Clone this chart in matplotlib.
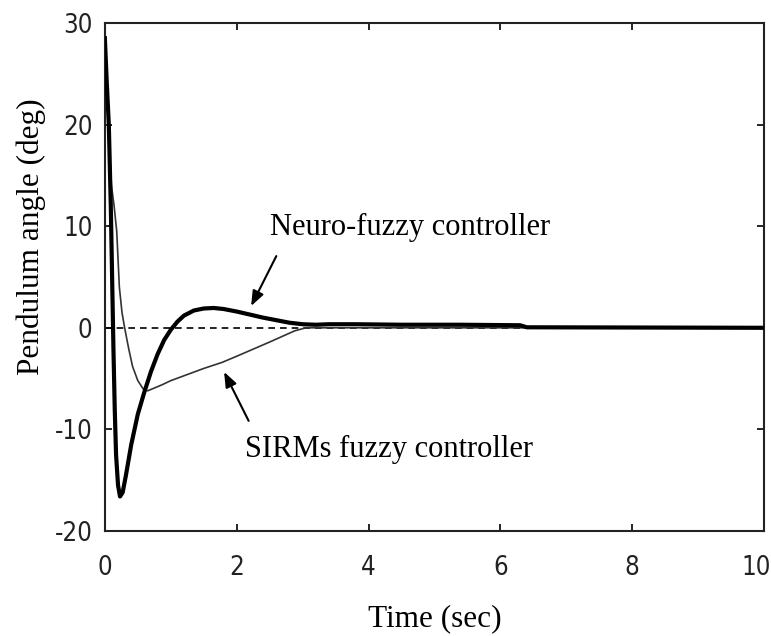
import numpy as np
import matplotlib
matplotlib.use("Agg")
import matplotlib.pyplot as plt
import matplotlib.transforms as mtransforms
from matplotlib import font_manager

# Neuro-fuzzy controller response (thick line)
t_nf = [0.0, 0.03, 0.06, 0.09, 0.11, 0.13, 0.15, 0.17, 0.20, 0.23, 0.27, 0.32,
        0.40, 0.50, 0.60, 0.70, 0.80, 0.90, 1.00, 1.10, 1.20, 1.35, 1.50, 1.65,
        1.80, 2.00, 2.20, 2.40, 2.60, 2.80, 3.00, 3.20, 3.40, 3.80, 4.50, 5.40,
        6.30, 6.40, 10.0]
y_nf = [28.5, 24.0, 20.0, 12.0, 5.0, -2.0, -8.0, -12.5, -15.5, -16.6, -16.2, -14.5,
        -11.5, -8.5, -6.3, -4.3, -2.6, -1.2, -0.2, 0.6, 1.2, 1.7, 1.9, 1.95,
        1.85, 1.6, 1.3, 1.0, 0.75, 0.5, 0.35, 0.3, 0.35, 0.35, 0.3, 0.3,
        0.25, 0.05, 0.0]

# SIRMs fuzzy controller response (thin line)
t_sirm = [0.0, 0.05, 0.10, 0.14, 0.18, 0.22, 0.26, 0.30, 0.36, 0.42, 0.50, 0.58,
          0.65, 0.87, 1.00, 1.50, 1.78, 2.00, 2.50, 2.88, 3.05, 10.0]
y_sirm = [28.5, 20.0, 14.0, 12.0, 9.5, 4.0, 1.5, 0.0, -2.0, -3.8, -5.2, -6.0,
          -6.2, -5.6, -5.2, -4.0, -3.4, -2.8, -1.4, -0.3, 0.0, 0.0]

x_ticks = [0, 2, 4, 6, 8, 10]
y_ticks = [-20, -10, 0, 10, 20, 30]

plt.rcParams["axes.unicode_minus"] = False

serif = ["Liberation Serif", "DejaVu Serif"]

# narrow sans for the tick numbers, if one is available
fonts = font_manager.fontManager.ttflist
names = {f.name for f in fonts}
tick_kw = dict(family="Liberation Sans", stretch="normal", size=17)
if "Liberation Sans Narrow" in names:
    tick_kw = dict(family="Liberation Sans Narrow", stretch="normal", size=19)
elif any(f.name == "DejaVu Sans" and f.stretch == "condensed" for f in fonts):
    tick_kw = dict(family="DejaVu Sans", stretch="condensed", size=18.5)

fig = plt.figure(figsize=(7.71, 6.36), dpi=100)
ax = fig.add_axes([0.136, 0.165, 0.855, 0.799])

ax.axhline(0, color="black", lw=1.2, ls=(0, (4, 3)), zorder=1)
ax.plot(t_sirm, y_sirm, color="#333333", lw=1.2, zorder=2)
ax.plot(t_nf, y_nf, color="black", lw=3.0, zorder=3)

ax.set_xlim(0, 10)
ax.set_ylim(-20, 30)
ax.set_xticks(x_ticks)
ax.set_yticks(y_ticks)
ax.tick_params(direction="in", length=5, width=1.2, top=True, right=True,
               colors="black")
ax.tick_params(axis="x", pad=17)
ax.tick_params(axis="y", pad=9)
for lab in ax.get_xticklabels() + ax.get_yticklabels():
    lab.set_family(tick_kw["family"])
    lab.set_fontstretch(tick_kw["stretch"])
    lab.set_fontsize(tick_kw["size"])
    lab.set_color("#222222")
# last x label sits against the figure edge, nudge it in a little
last = ax.get_xticklabels()[-1]
last.set_transform(last.get_transform() +
                   mtransforms.ScaledTranslation(-8 / 100, 0, fig.dpi_scale_trans))
for sp in ax.spines.values():
    sp.set_linewidth(1.5)
    sp.set_color("#222222")

ax.set_xlabel("Time (sec)", family=serif, fontsize=22.5)
ax.xaxis.set_label_coords(0.501, -0.143)
ax.set_ylabel("Pendulum angle (deg)", family=serif, fontsize=22.5)
ax.yaxis.set_label_coords(-0.09, 0.58)

ax.annotate("", xy=(2.2, 1.9), xytext=(2.62, 7.3),
            arrowprops=dict(arrowstyle="-|>,head_length=0.9,head_width=0.35",
                            color="black", lw=1.5))
ax.text(2.5, 9.1, "Neuro-fuzzy controller", family=serif, fontsize=22,
        va="baseline", ha="left")

ax.annotate("", xy=(1.79, -4.1), xytext=(2.2, -9.4),
            arrowprops=dict(arrowstyle="-|>,head_length=0.9,head_width=0.35",
                            color="black", lw=1.5))
ax.text(2.12, -12.75, "SIRMs fuzzy controller", family=serif, fontsize=22,
        va="baseline", ha="left")

fig.savefig("out.png", dpi=100, facecolor="white")
